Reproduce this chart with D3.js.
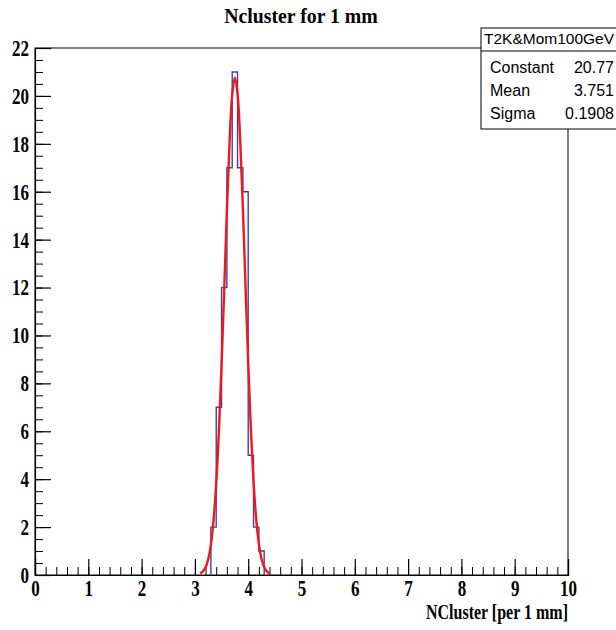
<!DOCTYPE html>
<html>
<head>
<meta charset="utf-8">
<script src="https://cdn.jsdelivr.net/npm/d3@7"></script>
<style>
  body { margin: 0; background: #fff; }
  svg { display: block; }
</style>
</head>
<body>
<div id="chartContainer"></div>
<script>
// histogram bins (width 0.1), lower edges and counts
const binLow = [3.3, 3.4, 3.5, 3.6, 3.7, 3.8, 3.9, 4.0, 4.1, 4.2];
const binCounts = [2, 7, 12, 17, 21, 17, 16, 5, 2, 1];
const binWidth = 0.1;

// gaussian fit curve
const fitX = [3.10, 3.15, 3.20, 3.25, 3.30, 3.35, 3.40, 3.45, 3.50, 3.55, 3.60, 3.65, 3.70, 3.75,
              3.80, 3.85, 3.90, 3.95, 4.00, 4.05, 4.10, 4.15, 4.20, 4.25, 4.30, 4.35, 4.40];
const fitY = [0.06, 0.15, 0.32, 0.66, 1.27, 2.28, 3.82, 5.98, 8.74, 11.92, 15.19, 18.05, 20.04, 20.77,
              20.10, 18.15, 15.31, 12.05, 8.86, 6.08, 3.90, 2.33, 1.30, 0.68, 0.33, 0.15, 0.06];

const xTicks = [0, 1, 2, 3, 4, 5, 6, 7, 8, 9, 10];
const yTicks = [0, 2, 4, 6, 8, 10, 12, 14, 16, 18, 20, 22];

const statsTitle = "T2K&Mom100GeV";
const statsNames = ["Constant", "Mean", "Sigma"];
const statsValues = ["20.77", "3.751", "0.1908"];

const margin = { top: 48, right: 48, bottom: 55, left: 35 },
      width = 616 - margin.left - margin.right,
      height = 630 - margin.top - margin.bottom;

const svgRoot = d3.select("#chartContainer").append("svg")
    .attr("width", 616)
    .attr("height", 630);

const svg = svgRoot.append("g")
    .attr("transform", `translate(${margin.left},${margin.top})`);

const x = d3.scaleLinear().domain([0, 10]).range([0, width]);
const y = d3.scaleLinear().domain([0, 22]).range([height, 0]);

const serif = "'Liberation Serif', 'Times New Roman', serif";
const squeeze = 0.74;

// frame
svg.append("rect")
    .attr("width", width)
    .attr("height", height)
    .attr("fill", "none")
    .attr("stroke", "#000")
    .attr("stroke-width", 1);

// minor ticks
svg.append("g")
    .attr("transform", `translate(0,${height})`)
    .call(d3.axisBottom(x).tickValues(d3.range(0, 10.001, 0.2)).tickSize(-8).tickFormat(""))
    .call(g => g.select(".domain").remove());
svg.append("g")
    .call(d3.axisLeft(y).tickValues(d3.range(0, 22.001, 0.5)).tickSize(-8).tickFormat(""))
    .call(g => g.select(".domain").remove());

// major ticks + labels
const xAxis = svg.append("g")
    .attr("transform", `translate(0,${height})`)
    .call(d3.axisBottom(x).tickValues(xTicks).tickSize(-16).tickPadding(4).tickFormat(d3.format("d")));
const yAxis = svg.append("g")
    .call(d3.axisLeft(y).tickValues(yTicks).tickSize(-16).tickPadding(8).tickFormat(d3.format("d")));

[xAxis, yAxis].forEach(ax => {
    ax.selectAll("line, .domain").attr("stroke", "#000").attr("stroke-width", 1.2);
    ax.selectAll("text")
        .attr("fill", "#000")
        .style("font-family", serif)
        .style("font-weight", "bold")
        .style("font-size", "23px")
        .attr("transform", `scale(${squeeze},1)`);
});
xAxis.selectAll("text").attr("dy", "0.74em");

// histogram outline
const stepPts = [[binLow[0], 0]];
binLow.forEach((b, i) => {
    stepPts.push([b, binCounts[i]]);
    stepPts.push([b + binWidth, binCounts[i]]);
});
stepPts.push([binLow[binLow.length - 1] + binWidth, 0]);

svg.append("path")
    .datum(stepPts)
    .attr("d", d3.line().x(d => x(d[0])).y(d => y(d[1])))
    .attr("fill", "none")
    .attr("stroke", "#4040a8")
    .attr("stroke-width", 1.4);

// fit curve
svg.append("path")
    .datum(fitX.map((v, i) => [v, fitY[i]]))
    .attr("d", d3.line().curve(d3.curveCatmullRom).x(d => x(d[0])).y(d => y(d[1])))
    .attr("fill", "none")
    .attr("stroke", "#f01818")
    .attr("stroke-width", 2.4);

// title
svgRoot.append("text")
    .attr("transform", `translate(301,23) scale(0.9,1)`)
    .attr("text-anchor", "middle")
    .style("font-family", serif)
    .style("font-weight", "bold")
    .style("font-size", "22px")
    .text("Ncluster for 1 mm");

// x axis title
svgRoot.append("text")
    .attr("transform", `translate(${margin.left + width},619) scale(0.8,1)`)
    .attr("text-anchor", "end")
    .style("font-family", serif)
    .style("font-weight", "bold")
    .style("font-size", "20px")
    .text("NCluster [per 1 mm]");

// stats box
const stats = svgRoot.append("g").attr("transform", "translate(481,28)");
stats.append("rect")
    .attr("width", 136)
    .attr("height", 101)
    .attr("fill", "#fff")
    .attr("stroke", "#000")
    .attr("stroke-width", 1);
stats.append("line")
    .attr("x1", 0).attr("x2", 136)
    .attr("y1", 23).attr("y2", 23)
    .attr("stroke", "#000");
stats.append("text")
    .attr("x", 68).attr("y", 16)
    .attr("text-anchor", "middle")
    .style("font-family", "'Liberation Sans', Arial, sans-serif")
    .style("font-size", "15.5px")
    .text(statsTitle);
statsNames.forEach((n, i) => {
    stats.append("text")
        .attr("x", 9).attr("y", 45 + i * 23)
        .style("font-family", "'Liberation Sans', Arial, sans-serif")
        .style("font-size", "16px")
        .text(n);
    stats.append("text")
        .attr("x", 133).attr("y", 45 + i * 23)
        .attr("text-anchor", "end")
        .style("font-family", "'Liberation Sans', Arial, sans-serif")
        .style("font-size", "16px")
        .text(statsValues[i]);
});
</script>
</body>
</html>
